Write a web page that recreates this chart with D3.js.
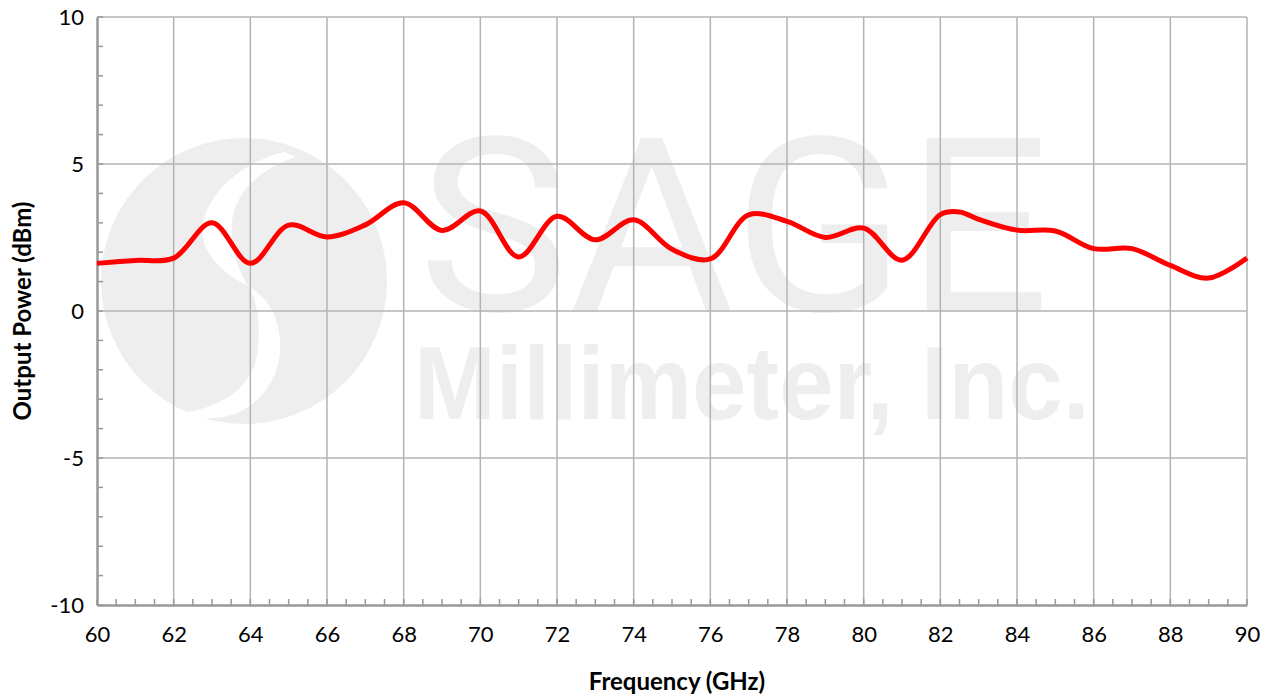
<!DOCTYPE html>
<html>
<head>
<meta charset="utf-8">
<script src="https://cdn.jsdelivr.net/npm/d3@7"></script>
<style>
  body { margin: 0; background: #fff; }
</style>
</head>
<body>
<div id="chart"></div>
<script>
// Output power readings
const freqGHz = [60, 61, 62, 63, 64, 65, 66, 67, 68, 69, 70, 71, 72, 73, 74, 75, 76, 77, 78, 79, 80, 81, 82, 82.5, 83, 84, 85, 86, 87, 88, 89, 90];
const powerDbm = [1.62, 1.72, 1.8, 3.0, 1.62, 2.92, 2.52, 2.93, 3.68, 2.74, 3.4, 1.84, 3.22, 2.42, 3.1, 2.1, 1.77, 3.27, 3.05, 2.5, 2.82, 1.73, 3.28, 3.37, 3.12, 2.75, 2.72, 2.12, 2.12, 1.55, 1.12, 1.8];
const xTicks = d3.range(60, 91, 2);
const yTicks = [-10, -5, 0, 5, 10];

const W = 1274, H = 696;
const margin = { top: 17, right: 27, bottom: 91, left: 97 };
const width = W - margin.left - margin.right;
const height = H - margin.top - margin.bottom;
const font = 'Lato, "Open Sans", sans-serif';

const svg = d3.select('#chart').append('svg')
    .attr('width', W)
    .attr('height', H);

// Watermark (drawn first, grid sits over it)
const wm = svg.append('g').attr('fill', '#eeeeee');
wm.append('circle').attr('cx', 244).attr('cy', 281).attr('r', 143);
wm.append('path').attr('fill', '#fff')
    .attr('d', 'M284,152 C250,160 212,185 203,222 C198,250 220,272 248,286 ' +
               'C238,270 228,245 233,215 C238,190 262,168 296,157 Z');
wm.append('path').attr('fill', '#fff')
    .attr('d', 'M248,286 C258,300 262,330 256,360 C248,390 220,408 178,414 ' +
               'C190,420 215,420 235,414 C268,400 282,370 280,340 C278,315 268,298 248,286 Z');
wm.append('text')
    .attr('x', 418).attr('y', 311)
    .attr('font-family', 'Roboto, sans-serif')
    .attr('font-weight', 400)
    .attr('font-size', 244)
    .attr('textLength', 632)
    .attr('lengthAdjust', 'spacingAndGlyphs')
    .text('SAGE');
wm.append('text')
    .attr('x', 414).attr('y', 419)
    .attr('font-family', '"Liberation Sans", Arial, sans-serif')
    .attr('font-weight', 'bold')
    .attr('font-size', 104)
    .attr('textLength', 676)
    .attr('lengthAdjust', 'spacingAndGlyphs')
    .text('Millimeter, Inc.');

const g = svg.append('g')
    .attr('transform', `translate(${margin.left},${margin.top})`);

const x = d3.scaleLinear().domain([60, 90]).range([0, width]);
const y = d3.scaleLinear().domain([-10, 10]).range([height, 0]);

// Grid
g.append('g')
    .selectAll('line')
    .data(xTicks.slice(1))
    .join('line')
    .attr('x1', d => x(d)).attr('x2', d => x(d))
    .attr('y1', 0).attr('y2', height)
    .attr('stroke', '#b3b3b3').attr('stroke-width', 1.5);

g.append('g')
    .selectAll('line')
    .data(yTicks.slice(1))
    .join('line')
    .attr('x1', 0).attr('x2', width)
    .attr('y1', d => y(d)).attr('y2', d => y(d))
    .attr('stroke', '#b3b3b3').attr('stroke-width', 1.5);

// Minor ticks
g.append('g')
    .selectAll('line')
    .data(d3.range(60, 90.01, 0.5))
    .join('line')
    .attr('x1', d => x(d)).attr('x2', d => x(d))
    .attr('y1', height).attr('y2', height - 6)
    .attr('stroke', '#999').attr('stroke-width', 1.5);

g.append('g')
    .selectAll('line')
    .data(d3.range(-10, 10.01, 1))
    .join('line')
    .attr('x1', 0).attr('x2', 6)
    .attr('y1', d => y(d)).attr('y2', d => y(d))
    .attr('stroke', '#999').attr('stroke-width', 1.5);

// Axes
const xAxis = g.append('g')
    .attr('transform', `translate(0,${height})`)
    .call(d3.axisBottom(x).tickValues(xTicks).tickSize(0).tickPadding(21).tickFormat(d => String(d)));
const yAxis = g.append('g')
    .call(d3.axisLeft(y).tickValues(yTicks).tickSize(0).tickPadding(13).tickFormat(d => String(d)));

[xAxis, yAxis].forEach(a => {
    a.select('.domain').attr('stroke', '#999').attr('stroke-width', 2.5);
    a.selectAll('text')
        .attr('font-family', font)
        .attr('font-size', 22)
        .attr('fill', '#000');
});

// Line
const line = d3.line()
    .x((d, i) => x(freqGHz[i]))
    .y(d => y(d))
    .curve(d3.curveCatmullRom.alpha(0.5));

g.append('path')
    .datum(powerDbm)
    .attr('fill', 'none')
    .attr('stroke', '#ff0000')
    .attr('stroke-width', 5)
    .attr('stroke-linejoin', 'round')
    .attr('d', line);

// Axis titles
svg.append('text')
    .attr('x', 677)
    .attr('y', 690)
    .attr('text-anchor', 'middle')
    .attr('font-family', font)
    .attr('font-size', 24)
    .attr('font-weight', 'bold')
    .text('Frequency (GHz)');

svg.append('text')
    .attr('transform', `translate(31,${margin.top + height / 2}) rotate(-90)`)
    .attr('text-anchor', 'middle')
    .attr('font-family', font)
    .attr('font-size', 24)
    .attr('font-weight', 'bold')
    .text('Output Power (dBm)');
</script>
</body>
</html>
